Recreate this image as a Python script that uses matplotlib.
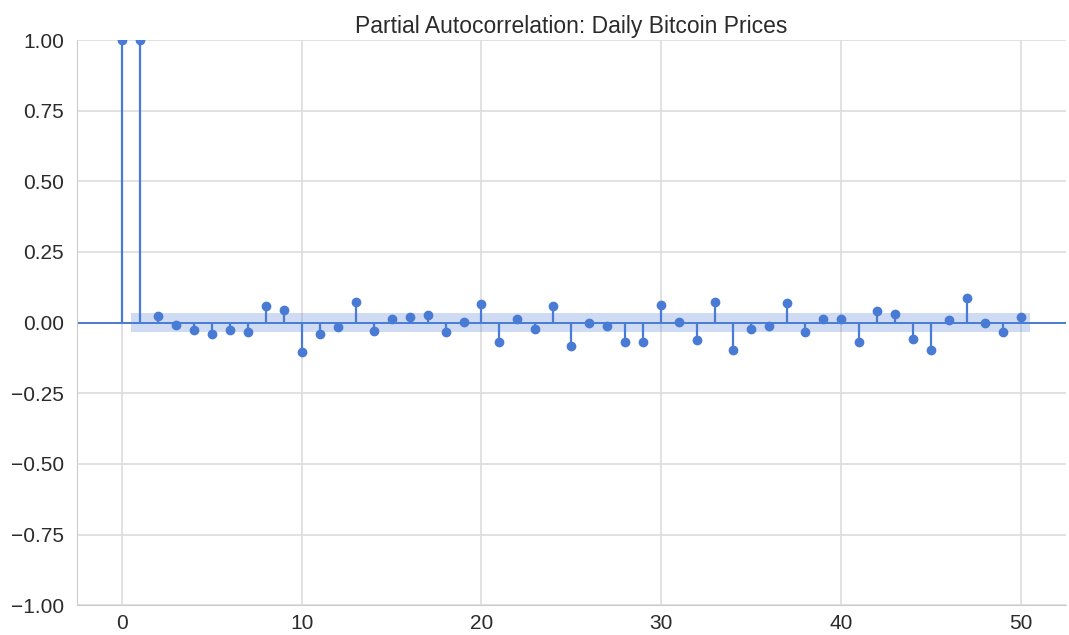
import numpy as np
import matplotlib
matplotlib.use("Agg")
import matplotlib.pyplot as plt
import seaborn as sns

lags = list(range(0, 51))
pacf_values = [1.000, 0.999, 0.024, -0.009, -0.025, -0.041, -0.025, -0.032, 0.057, 0.043,
               -0.103, -0.041, -0.016, 0.073, -0.029, 0.013, 0.021, 0.028, -0.032, 0.002,
               0.067, -0.070, 0.011, -0.022, 0.060, -0.083, -0.001, -0.012, -0.070, -0.070,
               0.063, 0.002, -0.061, 0.073, -0.096, -0.022, -0.012, 0.070, -0.032, 0.011,
               0.013, -0.068, 0.040, 0.031, -0.057, -0.097, 0.009, 0.087, -0.002, -0.035,
               0.021]
conf_bound = 0.035
title = "Partial Autocorrelation: Daily Bitcoin Prices"

sns.set_style("whitegrid")
plt.rcParams['font.family'] = ['Liberation Sans', 'DejaVu Sans']

fig = plt.figure(figsize=(10.69, 6.35), dpi=100)
ax = fig.add_axes([0.072, 0.047, 0.925, 0.89])

color = "#4a7bd4"
x = np.array(lags, dtype=float)
y = np.array(pacf_values)

ax.vlines(x, 0, y, color=color, lw=1.6)
ax.plot(x, y, "o", color=color, markersize=6, clip_on=True)
ax.axhline(0, color=color, lw=1.4)

band_x = x[1:].copy()
band_x[0] -= 0.5
band_x[-1] += 0.5
ax.fill_between(band_x, -conf_bound, conf_bound, color=color, alpha=0.27, lw=0)

ax.set_xlim(-2.5, 52.5)
ax.set_ylim(-1.0, 1.0)
yt = np.arange(-1.0, 1.01, 0.25)
ax.set_yticks(yt)
ax.set_yticklabels([f"{v:.2f}".replace("-", "\u2212") for v in yt])
ax.set_xticks([0, 10, 20, 30, 40, 50])
ax.tick_params(axis="y", labelsize=15, colors="#2b2b2b", pad=6)
ax.tick_params(axis="x", labelsize=15, colors="#2b2b2b", pad=3)
ax.set_title(title, fontsize=16.5, color="#2b2b2b", pad=5)

for s in ["top", "right"]:
    ax.spines[s].set_visible(False)
for s in ["left", "bottom"]:
    ax.spines[s].set_color("#cccccc")
ax.grid(color="#dddddd", lw=1.2)
ax.set_axisbelow(True)

fig.savefig("out.png", dpi=100)
